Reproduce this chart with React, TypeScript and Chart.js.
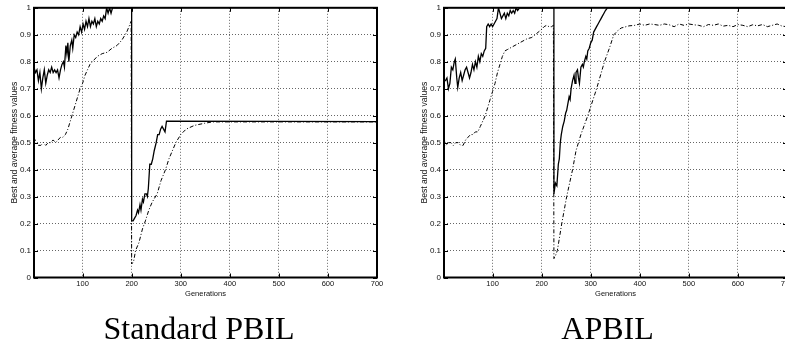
import React, { useEffect, useRef } from 'react';
import { Chart, registerables } from 'chart.js';

Chart.register(...registerables);

// ---- tick labels ----
const xTickValues = [100, 200, 300, 400, 500, 600, 700];
const yTickValues = [0, 0.1, 0.2, 0.3, 0.4, 0.5, 0.6, 0.7, 0.8, 0.9, 1];
const yTickLabels = ['0', '0.1', '0.2', '0.3', '0.4', '0.5', '0.6', '0.7', '0.8', '0.9', '1'];

const xAxisTitle = 'Generations';
const yAxisTitle = 'Best and average fitness values';
const panelTitles = ['Standard PBIL', 'APBIL'];

// ---- series: [generation, value] ----
const pbilBest = [
  [1, 0.78], [4, 0.76], [7, 0.77], [10, 0.73], [13, 0.76], [16, 0.70], [19, 0.74], [22, 0.77],
  [25, 0.72], [28, 0.75], [31, 0.77], [34, 0.76], [37, 0.78], [40, 0.76], [43, 0.77], [46, 0.76],
  [49, 0.77], [52, 0.74], [55, 0.77], [58, 0.79], [61, 0.80], [63, 0.78], [66, 0.86], [68, 0.83],
  [70, 0.87], [72, 0.80], [75, 0.86], [78, 0.88], [80, 0.85], [83, 0.90], [86, 0.89], [89, 0.91],
  [92, 0.90], [95, 0.93], [98, 0.91], [101, 0.94], [104, 0.92], [107, 0.95], [110, 0.93], [113, 0.96],
  [116, 0.93], [119, 0.95], [122, 0.94], [125, 0.96], [128, 0.93], [131, 0.95], [134, 0.94], [137, 0.96],
  [140, 0.95], [143, 0.97], [146, 0.96], [149, 1.0], [152, 0.98], [155, 1.0], [158, 0.98], [161, 1.0],
  [164, 1.0], [200, 1.0], [200, 0.21], [203, 0.21], [206, 0.22], [209, 0.23], [212, 0.25], [214, 0.24],
  [217, 0.27], [219, 0.25], [222, 0.29], [224, 0.28], [227, 0.31], [230, 0.31], [232, 0.30], [234, 0.33],
  [237, 0.42], [240, 0.42], [243, 0.44], [246, 0.47], [250, 0.50], [253, 0.53], [256, 0.53], [259, 0.55],
  [262, 0.56], [265, 0.55], [268, 0.54], [271, 0.58], [700, 0.578],
];

const pbilAvg = [
  [1, 0.52], [5, 0.50], [10, 0.49], [15, 0.49], [20, 0.50], [25, 0.49], [30, 0.50], [35, 0.50],
  [40, 0.51], [45, 0.50], [50, 0.51], [55, 0.52], [60, 0.52], [65, 0.53], [70, 0.55], [75, 0.58],
  [80, 0.61], [85, 0.64], [90, 0.67], [95, 0.70], [100, 0.72], [105, 0.75], [110, 0.77], [115, 0.79],
  [120, 0.80], [125, 0.81], [130, 0.82], [140, 0.83], [150, 0.835], [160, 0.85], [170, 0.86], [180, 0.88],
  [190, 0.91], [199, 0.95], [200, 0.05], [204, 0.06], [208, 0.10], [215, 0.13], [222, 0.18], [228, 0.21],
  [235, 0.25], [242, 0.28], [252, 0.31], [260, 0.36], [269, 0.40], [276, 0.44], [283, 0.47], [290, 0.50],
  [300, 0.53], [311, 0.55], [328, 0.564], [349, 0.572], [365, 0.577], [700, 0.577],
];

const apbilBest = [
  [1, 0.73], [4, 0.73], [7, 0.74], [10, 0.70], [13, 0.72], [16, 0.78], [19, 0.77], [22, 0.80],
  [24, 0.81], [27, 0.74], [29, 0.705], [32, 0.74], [35, 0.76], [38, 0.73], [41, 0.75], [44, 0.77],
  [47, 0.78], [50, 0.76], [53, 0.74], [56, 0.76], [59, 0.79], [62, 0.77], [65, 0.80], [68, 0.78],
  [71, 0.82], [74, 0.80], [77, 0.83], [80, 0.82], [83, 0.84], [86, 0.85], [88, 0.93], [91, 0.94],
  [94, 0.93], [97, 0.94], [100, 0.93], [103, 0.94], [106, 0.95], [109, 0.96], [112, 1.0], [115, 0.98],
  [118, 0.96], [121, 0.97], [124, 0.98], [127, 0.96], [130, 0.98], [133, 0.97], [136, 0.99], [139, 0.98],
  [142, 0.99], [145, 0.98], [148, 1.0], [151, 0.99], [155, 1.0], [225, 1.0], [225, 0.31], [228, 0.35],
  [231, 0.34], [234, 0.42], [236, 0.44], [238, 0.50], [240, 0.53], [243, 0.56], [246, 0.58], [249, 0.61],
  [251, 0.62], [253, 0.64], [256, 0.67], [258, 0.66], [260, 0.70], [263, 0.73], [266, 0.75], [268, 0.72],
  [270, 0.76], [273, 0.77], [275, 0.74], [277, 0.72], [280, 0.78], [283, 0.79], [285, 0.78], [287, 0.80],
  [290, 0.82], [292, 0.81], [294, 0.84], [297, 0.85], [300, 0.87], [303, 0.88], [306, 0.91], [309, 0.92],
  [312, 0.93], [315, 0.94], [318, 0.95], [321, 0.96], [324, 0.97], [327, 0.98], [330, 0.99], [334, 1.0],
  [700, 1.0],
];

const apbilAvg = [
  [1, 0.51], [5, 0.49], [10, 0.50], [15, 0.50], [20, 0.49], [25, 0.50], [30, 0.50], [35, 0.49],
  [40, 0.49], [45, 0.51], [50, 0.52], [55, 0.53], [60, 0.53], [65, 0.54], [70, 0.54], [75, 0.56],
  [80, 0.58], [85, 0.60], [90, 0.63], [95, 0.66], [100, 0.69], [105, 0.72], [110, 0.76], [115, 0.79],
  [120, 0.82], [125, 0.84], [130, 0.845], [140, 0.855], [150, 0.865], [160, 0.875], [170, 0.885], [180, 0.89],
  [190, 0.905], [200, 0.92], [205, 0.93], [210, 0.935], [215, 0.93], [220, 0.93], [224, 0.935], [225, 0.07],
  [228, 0.08], [232, 0.10], [241, 0.20], [251, 0.30], [263, 0.40], [270, 0.47], [280, 0.53], [294, 0.60],
  [312, 0.70], [328, 0.80], [338, 0.85], [347, 0.90], [355, 0.915], [362, 0.925], [378, 0.933], [390, 0.935],
  [400, 0.94], [410, 0.935], [420, 0.94], [430, 0.938], [440, 0.935], [450, 0.94], [460, 0.937], [470, 0.93],
  [480, 0.94], [490, 0.935], [500, 0.94], [510, 0.937], [520, 0.935], [530, 0.93], [540, 0.938], [550, 0.935],
  [560, 0.94], [570, 0.932], [580, 0.935], [590, 0.93], [600, 0.938], [610, 0.935], [620, 0.93], [630, 0.937],
  [640, 0.933], [650, 0.938], [660, 0.93], [670, 0.935], [680, 0.94], [690, 0.932], [700, 0.93],
];

const panelSeries = [
  { best: pbilBest, avg: pbilAvg },
  { best: apbilBest, avg: apbilAvg },
];

const toPoints = (arr: number[][]) => arr.map(([x, y]) => ({ x, y }));

const SANS = '"Liberation Sans", Arial, Helvetica, sans-serif';
const SERIF = '"Liberation Serif", "Times New Roman", Times, serif';

const framePlugin = {
  id: 'matlabFrame',
  afterDatasetsDraw(chart: any) {
    const { ctx, chartArea: a, scales } = chart;
    const tl = 4;
    ctx.save();
    ctx.strokeStyle = '#000';
    ctx.lineWidth = 1;
    ctx.setLineDash([]);
    ctx.beginPath();
    for (const v of xTickValues) {
      const px = Math.round(scales.x.getPixelForValue(v)) + 0.5;
      ctx.moveTo(px, a.bottom);
      ctx.lineTo(px, a.bottom - tl);
      ctx.moveTo(px, a.top);
      ctx.lineTo(px, a.top + tl);
    }
    for (const v of yTickValues) {
      const py = Math.round(scales.y.getPixelForValue(v)) + 0.5;
      ctx.moveTo(a.left, py);
      ctx.lineTo(a.left + tl, py);
      ctx.moveTo(a.right, py);
      ctx.lineTo(a.right - tl, py);
    }
    ctx.stroke();
    ctx.lineWidth = 2;
    ctx.strokeRect(a.left, a.top, a.right - a.left, a.bottom - a.top);
    ctx.restore();
  },
};

function Panel({ index, left, width, rightGap }: { index: number; left: number; width: number; rightGap: number }) {
  const ref = useRef<HTMLCanvasElement | null>(null);

  useEffect(() => {
    if (!ref.current) return;
    const s = panelSeries[index];
    const chart = new Chart(ref.current, {
      type: 'scatter',
      data: {
        datasets: [
          {
            label: 'best',
            data: toPoints(s.best),
            showLine: true,
            borderColor: '#000',
            borderWidth: 1.3,
            pointRadius: 0,
            tension: 0,
          },
          {
            label: 'average',
            data: toPoints(s.avg),
            showLine: true,
            borderColor: '#000',
            borderWidth: 1,
            borderDash: [4, 2, 1, 2],
            pointRadius: 0,
            tension: 0,
          },
        ],
      },
      options: {
        animation: false,
        responsive: false,
        maintainAspectRatio: false,
        events: [],
        layout: { padding: { top: 7, left: 0, right: 0, bottom: 0 } },
        plugins: {
          legend: { display: false },
          tooltip: { enabled: false },
          title: {
            display: true,
            text: panelTitles[index],
            position: 'bottom',
            color: '#000',
            font: { family: SERIF, size: 32, weight: 'normal' as any, lineHeight: 1.2 },
            padding: { top: 0, bottom: 0 },
          },
        },
        scales: {
          x: {
            type: 'linear',
            min: 1,
            max: 700,
            afterBuildTicks: (sc: any) => {
              sc.ticks = xTickValues.map((v) => ({ value: v }));
            },
            afterFit: (sc: any) => {
              sc.height = 34.1;
            },
            ticks: {
              padding: 2,
              color: '#111',
              font: { family: SANS, size: 7.5 },
              maxRotation: 0,
              autoSkip: false,
              callback: (v: any) => String(v),
            },
            grid: {
              display: true,
              drawTicks: false,
              color: 'rgba(0,0,0,0.6)',
              lineWidth: 1,
            },
            border: { display: false, dash: [1, 2] },
            title: {
              display: true,
              text: xAxisTitle,
              color: '#111',
              font: { family: SANS, size: 7.5 },
              padding: { top: 0, bottom: 13.1 },
            },
          },
          y: {
            type: 'linear',
            min: 0,
            max: 1,
            afterBuildTicks: (sc: any) => {
              sc.ticks = yTickValues.map((v) => ({ value: v }));
            },
            afterFit: (sc: any) => {
              sc.width = 34;
            },
            ticks: {
              padding: 3,
              color: '#111',
              font: { family: SANS, size: 8 },
              autoSkip: false,
              callback: (_v: any, i: number) => yTickLabels[i],
            },
            grid: {
              display: true,
              drawTicks: false,
              color: 'rgba(0,0,0,0.6)',
              lineWidth: 1,
            },
            border: { display: false, dash: [1, 2] },
            title: {
              display: true,
              text: yAxisTitle,
              color: '#111',
              font: { family: SANS, size: 8.6 },
              padding: { top: 9.8, bottom: 0 },
            },
          },
          yRight: {
            type: 'linear',
            position: 'right',
            display: true,
            min: 0,
            max: 1,
            afterFit: (sc: any) => {
              sc.width = rightGap;
            },
            ticks: { display: false },
            grid: { display: false, drawTicks: false },
            border: { display: false },
            title: { display: false },
          },
        },
      },
      plugins: [framePlugin],
    } as any);
    return () => chart.destroy();
  }, [index, rightGap]);

  return (
    <canvas
      ref={ref}
      width={width}
      height={350}
      style={{ position: 'absolute', left, top: 0, width, height: 350, display: 'block' }}
    />
  );
}

export default function App() {
  return (
    <div
      style={{
        position: 'fixed',
        left: 0,
        top: 0,
        width: 785,
        height: 350,
        overflow: 'hidden',
        background: '#fff',
      }}
    >
      <Panel index={0} left={0} width={398} rightGap={21} />
      <Panel index={1} left={410} width={395} rightGap={18} />
    </div>
  );
}
